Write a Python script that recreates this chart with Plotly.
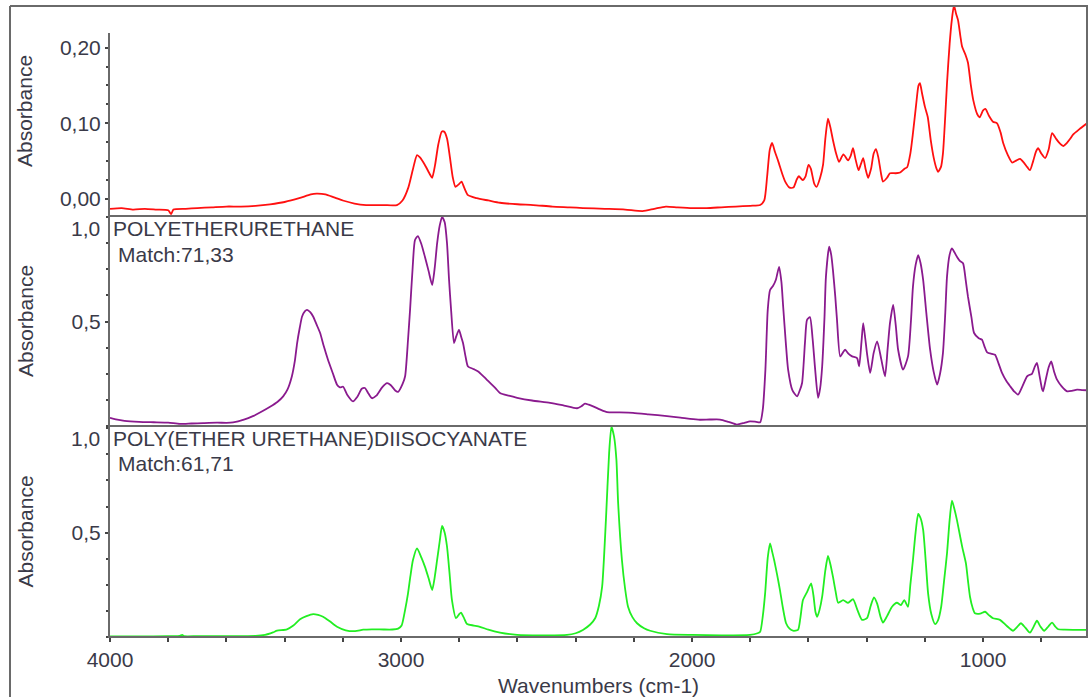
import plotly.graph_objects as go

# ---------------- spectra (wavenumber in cm-1, absorbance) ----------------
wn_sample = [4000, 3960, 3920, 3880, 3840, 3800, 3790, 3782, 3740, 3700, 3650, 3600, 3550, 3500,
             3450, 3400, 3350, 3310, 3290, 3260, 3230, 3200, 3160, 3120, 3060, 3014, 2995, 2975,
             2960, 2945, 2935, 2918, 2900, 2893, 2883, 2872, 2860, 2852, 2842, 2832, 2822, 2813,
             2800, 2792, 2783, 2770, 2740, 2700, 2660, 2600, 2546, 2480, 2420, 2375, 2300, 2230,
             2170, 2130, 2090, 2050, 2000, 1950, 1900, 1850, 1800, 1766, 1752, 1742, 1733, 1725,
             1715, 1704, 1690, 1680, 1665, 1652, 1640, 1633, 1620, 1610, 1600, 1592, 1580, 1572,
             1560, 1550, 1542, 1533, 1525, 1516, 1505, 1495, 1480, 1464, 1455, 1447, 1438, 1428,
             1420, 1412, 1404, 1395, 1385, 1376, 1368, 1360, 1350, 1344, 1330, 1320, 1300, 1285,
             1270, 1261, 1250, 1241, 1230, 1222, 1217, 1210, 1200, 1190, 1180, 1170, 1160, 1155,
             1145, 1138, 1130, 1124, 1115, 1107, 1100, 1093, 1086, 1078, 1072, 1060, 1052, 1042,
             1034, 1020, 1012, 1000, 992, 980, 966, 952, 940, 931, 915, 900, 885, 873, 860, 848,
             839, 828, 818, 811, 800, 787, 775, 763, 750, 738, 725, 710, 700, 691, 670, 643]
abs_sample = [-0.013, -0.012, -0.014, -0.013, -0.014, -0.015, -0.020, -0.014, -0.013, -0.012,
              -0.011, -0.010, -0.010, -0.009, -0.007, -0.004, 0.001, 0.006, 0.007, 0.006, 0.002,
              -0.002, -0.006, -0.008, -0.008, -0.008, -0.002, 0.015, 0.038, 0.058, 0.055, 0.045,
              0.032, 0.028, 0.045, 0.072, 0.089, 0.089, 0.080, 0.055, 0.028, 0.016, 0.020, 0.023,
              0.015, 0.005, 0.001, -0.002, -0.005, -0.007, -0.008, -0.010, -0.011, -0.012, -0.013,
              -0.014, -0.016, -0.013, -0.010, -0.011, -0.012, -0.012, -0.011, -0.010, -0.009,
              -0.008, -0.002, 0.030, 0.065, 0.074, 0.062, 0.050, 0.033, 0.023, 0.015, 0.015, 0.026,
              0.030, 0.025, 0.030, 0.045, 0.040, 0.020, 0.016, 0.028, 0.045, 0.080, 0.106, 0.095,
              0.078, 0.060, 0.049, 0.059, 0.051, 0.057, 0.067, 0.052, 0.038, 0.046, 0.054, 0.040,
              0.028, 0.040, 0.060, 0.066, 0.055, 0.032, 0.023, 0.028, 0.034, 0.034, 0.035, 0.040,
              0.042, 0.060, 0.087, 0.125, 0.150, 0.153, 0.140, 0.122, 0.108, 0.078, 0.055, 0.040,
              0.036, 0.042, 0.060, 0.110, 0.153, 0.205, 0.238, 0.256, 0.245, 0.236, 0.215, 0.201,
              0.190, 0.180, 0.150, 0.131, 0.112, 0.108, 0.117, 0.119, 0.110, 0.102, 0.100, 0.088,
              0.074, 0.058, 0.048, 0.051, 0.053, 0.048, 0.042, 0.038, 0.050, 0.063, 0.067, 0.060,
              0.054, 0.065, 0.087, 0.080, 0.074, 0.070, 0.075, 0.080, 0.085, 0.092, 0.100]

wn_peu = [4000, 3980, 3950, 3900, 3850, 3800, 3760, 3720, 3680, 3632, 3600, 3577, 3540, 3509,
          3480, 3450, 3425, 3405, 3390, 3375, 3365, 3357, 3348, 3340, 3330, 3323, 3312, 3302,
          3290, 3278, 3265, 3251, 3235, 3220, 3210, 3199, 3185, 3165, 3150, 3135, 3124, 3112,
          3100, 3085, 3065, 3048, 3035, 3020, 3010, 2995, 2986, 2976, 2969, 2960, 2952, 2942,
          2930, 2918, 2905, 2893, 2884, 2876, 2867, 2859, 2850, 2842, 2835, 2828, 2818, 2810,
          2801, 2794, 2787, 2778, 2770, 2750, 2735, 2715, 2694, 2675, 2660, 2630, 2601, 2550,
          2488, 2440, 2395, 2380, 2368, 2355, 2340, 2315, 2292, 2250, 2203, 2150, 2086, 2040,
          2007, 1973, 1940, 1904, 1875, 1846, 1820, 1801, 1780, 1766, 1757, 1748, 1740, 1732,
          1722, 1712, 1701, 1693, 1687, 1678, 1670, 1655, 1639, 1630, 1622, 1612, 1605, 1595,
          1586, 1577, 1567, 1560, 1553, 1545, 1540, 1529, 1522, 1516, 1508, 1502, 1491, 1480,
          1474, 1462, 1450, 1433, 1426, 1418, 1412, 1405, 1399, 1388, 1376, 1364, 1350, 1337,
          1328, 1320, 1309, 1300, 1292, 1275, 1258, 1248, 1241, 1232, 1223, 1215, 1206, 1195,
          1182, 1170, 1158, 1148, 1138, 1130, 1124, 1115, 1107, 1098, 1090, 1080, 1069, 1060,
          1052, 1040, 1031, 1015, 1004, 995, 986, 970, 959, 947, 935, 920, 907, 893, 880, 865,
          849, 840, 832, 822, 815, 806, 798, 794, 785, 775, 766, 756, 746, 730, 711, 695, 677,
          660, 643]
abs_peu = [0.039, 0.032, 0.025, 0.020, 0.018, 0.016, 0.010, 0.012, 0.014, 0.016, 0.015, 0.017,
           0.030, 0.047, 0.068, 0.092, 0.115, 0.142, 0.175, 0.238, 0.310, 0.397, 0.470, 0.524,
           0.550, 0.556, 0.545, 0.524, 0.485, 0.445, 0.380, 0.317, 0.255, 0.198, 0.185, 0.188,
           0.150, 0.118, 0.140, 0.178, 0.182, 0.155, 0.133, 0.145, 0.185, 0.205, 0.195, 0.170,
           0.163, 0.200, 0.238, 0.413, 0.556, 0.760, 0.890, 0.909, 0.870, 0.810, 0.740, 0.675,
           0.760, 0.874, 0.960, 1.000, 0.975, 0.874, 0.700, 0.556, 0.397, 0.430, 0.460, 0.430,
           0.397, 0.330, 0.285, 0.272, 0.261, 0.235, 0.206, 0.180, 0.158, 0.145, 0.135, 0.122,
           0.111, 0.098, 0.085, 0.095, 0.107, 0.102, 0.094, 0.078, 0.066, 0.065, 0.063, 0.056,
           0.047, 0.040, 0.034, 0.030, 0.031, 0.031, 0.020, 0.007, 0.015, 0.022, 0.020, 0.018,
           0.079, 0.270, 0.556, 0.651, 0.670, 0.700, 0.762, 0.690, 0.572, 0.400, 0.270, 0.170,
           0.142, 0.170, 0.206, 0.400, 0.508, 0.521, 0.420, 0.270, 0.135, 0.180, 0.285, 0.520,
           0.715, 0.858, 0.820, 0.747, 0.620, 0.508, 0.333, 0.355, 0.365, 0.345, 0.333, 0.325,
           0.285, 0.400, 0.492, 0.420, 0.349, 0.254, 0.350, 0.405, 0.320, 0.238, 0.370, 0.492,
           0.580, 0.480, 0.365, 0.270, 0.333, 0.500, 0.667, 0.770, 0.818, 0.780, 0.699, 0.540,
           0.365, 0.260, 0.198, 0.250, 0.349, 0.540, 0.715, 0.820, 0.850, 0.830, 0.810, 0.790,
           0.779, 0.700, 0.619, 0.520, 0.445, 0.420, 0.413, 0.380, 0.352, 0.345, 0.341, 0.300,
           0.254, 0.215, 0.190, 0.165, 0.150, 0.190, 0.238, 0.245, 0.250, 0.285, 0.302, 0.240,
           0.180, 0.166, 0.220, 0.280, 0.309, 0.260, 0.222, 0.190, 0.166, 0.168, 0.174, 0.172,
           0.171]

wn_pdi = [4000, 3900, 3800, 3760, 3752, 3745, 3700, 3600, 3500, 3467, 3440, 3426, 3392, 3370,
          3347, 3325, 3302, 3285, 3268, 3245, 3220, 3190, 3158, 3130, 3100, 3060, 3030, 3010,
          2998, 2986, 2976, 2968, 2959, 2945, 2930, 2918, 2905, 2893, 2885, 2876, 2867, 2859,
          2850, 2842, 2833, 2825, 2811, 2800, 2794, 2785, 2773, 2750, 2729, 2700, 2660, 2601,
          2500, 2430, 2400, 2375, 2350, 2333, 2320, 2309, 2296, 2285, 2277, 2268, 2260, 2254,
          2241, 2230, 2220, 2205, 2189, 2165, 2144, 2086, 2000, 1900, 1801, 1775, 1766, 1757,
          1749, 1740, 1732, 1725, 1718, 1708, 1698, 1688, 1677, 1665, 1653, 1636, 1628, 1619,
          1605, 1591, 1583, 1576, 1570, 1562, 1553, 1542, 1533, 1525, 1516, 1507, 1498, 1481,
          1464, 1447, 1432, 1416, 1399, 1386, 1375, 1364, 1352, 1344, 1330, 1313, 1296, 1282,
          1271, 1258, 1250, 1241, 1232, 1223, 1215, 1206, 1197, 1189, 1178, 1165, 1155, 1144,
          1134, 1124, 1115, 1107, 1098, 1090, 1080, 1072, 1059, 1052, 1045, 1036, 1028, 1010,
          993, 980, 966, 942, 920, 897, 885, 870, 855, 839, 828, 815, 803, 790, 776, 763, 752,
          742, 720, 691, 643]
abs_pdi = [0.003, 0.003, 0.004, 0.005, 0.010, 0.004, 0.004, 0.004, 0.005, 0.010, 0.022, 0.030,
           0.037, 0.055, 0.085, 0.100, 0.110, 0.106, 0.097, 0.075, 0.049, 0.032, 0.028, 0.035,
           0.037, 0.036, 0.036, 0.040, 0.055, 0.130, 0.209, 0.290, 0.369, 0.425, 0.380, 0.337,
           0.280, 0.225, 0.280, 0.369, 0.460, 0.532, 0.500, 0.433, 0.300, 0.177, 0.090, 0.110,
           0.117, 0.095, 0.062, 0.055, 0.049, 0.035, 0.021, 0.010, 0.008, 0.010, 0.018, 0.034,
           0.060, 0.090, 0.150, 0.241, 0.561, 0.881, 1.008, 0.960, 0.850, 0.642, 0.369, 0.230,
           0.145, 0.095, 0.066, 0.042, 0.030, 0.014, 0.010, 0.008, 0.010, 0.018, 0.025, 0.100,
           0.209, 0.380, 0.449, 0.410, 0.369, 0.300, 0.225, 0.140, 0.066, 0.040, 0.030, 0.034,
           0.090, 0.177, 0.215, 0.257, 0.200, 0.120, 0.097, 0.130, 0.193, 0.320, 0.388, 0.350,
           0.289, 0.220, 0.164, 0.177, 0.164, 0.181, 0.130, 0.082, 0.090, 0.150, 0.190, 0.160,
           0.095, 0.069, 0.100, 0.145, 0.164, 0.153, 0.177, 0.145, 0.250, 0.369, 0.500, 0.590,
           0.570, 0.513, 0.360, 0.209, 0.110, 0.062, 0.080, 0.145, 0.270, 0.401, 0.560, 0.653,
           0.610, 0.561, 0.490, 0.433, 0.353, 0.270, 0.193, 0.140, 0.114, 0.112, 0.121, 0.105,
           0.090, 0.082, 0.055, 0.030, 0.045, 0.066, 0.045, 0.021, 0.045, 0.078, 0.050, 0.030,
           0.050, 0.069, 0.050, 0.037, 0.035, 0.034, 0.034]

# ---------------- labels ----------------
x_tick_vals = [4000, 3000, 2000, 1000]
x_tick_text = ["4000", "3000", "2000", "1000"]
top_tick_vals = [0.0, 0.1, 0.2]
top_tick_text = ["0,00", "0,10", "0,20"]
lib_tick_vals = [0.5]
lib_tick_text = ["0,5"]
lib_top_label = "1,0"
lib_names = ["POLYETHERURETHANE", "POLY(ETHER URETHANE)DIISOCYANATE"]
lib_matches = ["Match:71,33", "Match:61,71"]
y_title = "Absorbance"
x_title = "Wavenumbers (cm-1)"

# ---------------- geometry (pixels of a 1088 x 697 canvas) ----------------
W, H = 1088, 697
FONT = "Liberation Sans, Arial, sans-serif"
TXT = "#3a3a48"
FRAME = "#6a6a6a"
X_LEFT, X_RIGHT = 110, 1087
P_TOP, P1_BOT, P2_BOT, P3_BOT = 6, 216, 426, 637


def px(x):
    return x / W


def py(y):
    return 1 - y / H


fig = go.Figure()
line_common = dict(width=1.8, shape="spline", smoothing=0.6)
fig.add_trace(go.Scatter(x=wn_sample, y=abs_sample, mode="lines",
                         line=dict(line_common, color="#ff1010"),
                         xaxis="x", yaxis="y", showlegend=False))
fig.add_trace(go.Scatter(x=wn_peu, y=abs_peu, mode="lines",
                         line=dict(line_common, color="#8a1a8e"),
                         xaxis="x2", yaxis="y2", showlegend=False))
fig.add_trace(go.Scatter(x=wn_pdi, y=abs_pdi, mode="lines",
                         line=dict(line_common, color="#22ee22"),
                         xaxis="x3", yaxis="y3", showlegend=False))

xr = [4000, 643]
xdom = [px(X_LEFT), px(X_RIGHT)]
tickfont = dict(family=FONT, size=21, color=TXT)

hidden_x = dict(domain=xdom, range=xr, showticklabels=False, ticks="", showline=False,
                showgrid=False, zeroline=False, automargin=False)
lib_y = dict(range=[0, 1.005], tickmode="array", tickvals=lib_tick_vals, ticktext=lib_tick_text,
             ticks="outside", ticklen=4, tickwidth=1.5, tickcolor="#444", tickfont=tickfont,
             showline=False, showgrid=False, zeroline=False, automargin=False,
             minor=dict(dtick=0.125, tick0=0, ticks="outside", ticklen=3, tickwidth=1.5, tickcolor="#444"))

fig.update_layout(
    width=W, height=H, margin=dict(l=0, r=0, t=0, b=0, autoexpand=False),
    paper_bgcolor="white", plot_bgcolor="white",
    xaxis=dict(hidden_x, anchor="y"),
    xaxis2=dict(hidden_x, anchor="y2", matches="x"),
    xaxis3=dict(domain=xdom, range=xr, anchor="y3", matches="x", tickmode="array",
                tickvals=x_tick_vals, ticktext=x_tick_text, ticks="outside", ticklen=4,
                tickwidth=1.5, tickcolor="#444", tickfont=tickfont, showline=False,
                showgrid=False, zeroline=False, automargin=False,
                minor=dict(dtick=200, tick0=0, ticks="outside", ticklen=4, tickwidth=1.5,
                           tickcolor="#444")),
    yaxis=dict(domain=[py(P1_BOT), py(P_TOP)], range=[-0.0225, 0.255], anchor="x",
               tickmode="array", tickvals=top_tick_vals, ticktext=top_tick_text,
               ticks="outside", ticklen=4, tickwidth=1.5, tickcolor="#444", tickfont=tickfont,
               showline=False, showgrid=False, zeroline=False, automargin=False,
               minor=dict(tickmode="array", tickvals=[0.025, 0.05, 0.075, 0.125, 0.15, 0.175],
                          ticks="outside", ticklen=3, tickwidth=1.5, tickcolor="#444")),
    yaxis2=dict(lib_y, domain=[py(P2_BOT), py(P1_BOT)], anchor="x2"),
    yaxis3=dict(lib_y, domain=[py(P3_BOT), py(P2_BOT)], anchor="x3", range=[0, 1.011]),
)

# frame and panel borders
shapes = []


def hline(x0, x1, y, w=2):
    shapes.append(dict(type="line", xref="paper", yref="paper", x0=px(x0), x1=px(x1),
                       y0=py(y), y1=py(y), line=dict(color=FRAME, width=w)))


def vline(x, y0, y1, w=2):
    shapes.append(dict(type="line", xref="paper", yref="paper", x0=px(x), x1=px(x),
                       y0=py(y0), y1=py(y1), line=dict(color=FRAME, width=w)))


vline(10, P_TOP, H)
hline(10, W, P_TOP)
hline(108, W, P1_BOT)
hline(108, W, P2_BOT)
hline(108, W, P3_BOT)
vline(X_RIGHT, P_TOP, P3_BOT)
vline(X_LEFT - 1, 33, P1_BOT)
vline(X_LEFT - 1, P1_BOT, P2_BOT)
vline(X_LEFT - 1, P2_BOT, P3_BOT)
fig.update_layout(shapes=shapes)

ann = []
for cy in [(P_TOP + P1_BOT) / 2, (P1_BOT + P2_BOT) / 2, (P2_BOT + P3_BOT) / 2]:
    ann.append(dict(text=y_title, xref="paper", yref="paper", x=px(25), y=py(cy),
                    textangle=-90, showarrow=False, xanchor="center", yanchor="middle",
                    font=dict(family=FONT, size=21, color=TXT)))
for top, name, match in zip([P1_BOT, P2_BOT], lib_names, lib_matches):
    ann.append(dict(text=lib_top_label, xref="paper", yref="paper", x=px(102), y=py(top + 12),
                    showarrow=False, xanchor="right", yanchor="middle",
                    font=dict(family=FONT, size=21, color=TXT)))
    ann.append(dict(text=name, xref="paper", yref="paper", x=px(111), y=py(top + 12),
                    showarrow=False, xanchor="left", yanchor="middle",
                    font=dict(family=FONT, size=21, color=TXT)))
    ann.append(dict(text=match, xref="paper", yref="paper", x=px(116), y=py(top + 38),
                    showarrow=False, xanchor="left", yanchor="middle",
                    font=dict(family=FONT, size=21, color=TXT)))
ann.append(dict(text=x_title, xref="paper", yref="paper", x=px((X_LEFT + X_RIGHT) / 2), y=py(685),
                showarrow=False, xanchor="center", yanchor="middle",
                font=dict(family=FONT, size=21, color=TXT)))
fig.update_layout(annotations=ann)

fig.write_html("out.html")
